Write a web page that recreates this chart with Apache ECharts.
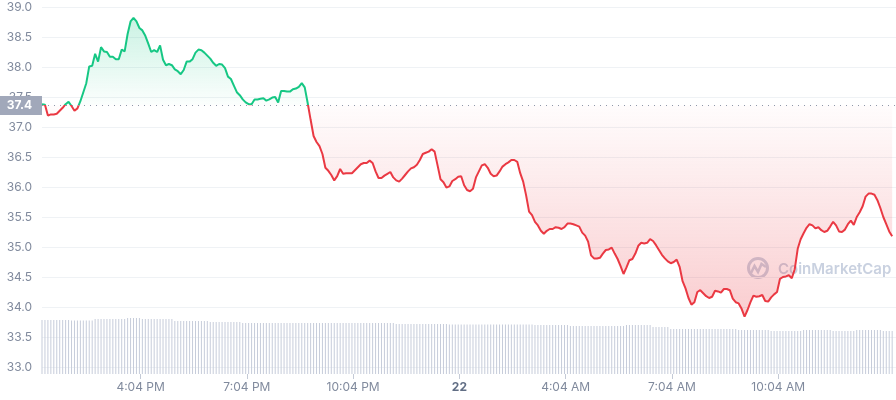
<!DOCTYPE html>
<html><head><meta charset="utf-8">
<script src="https://cdn.jsdelivr.net/npm/echarts@6/dist/echarts.min.js"></script>
<style>html,body{margin:0;padding:0;background:#fff}#c{width:896px;height:400px}</style>
</head><body><div id="c"></div>
<script>
// time: minutes after midnight of the 21st (13:17 start), 5-minute samples
const startMinute = 797;
const stepMinutes = 5;
const endMinute = 2243.5;
const openPrice = 37.36;

const prices = [
37.38,37.37,37.19,37.21,37.21,37.22,37.27,37.32,37.38,37.42,
37.35,37.27,37.31,37.43,37.58,37.73,38.01,38.02,38.22,38.09,
38.33,38.26,38.25,38.17,38.17,38.13,38.13,38.29,38.26,38.55,
38.76,38.82,38.76,38.65,38.61,38.52,38.39,38.25,38.28,38.25,
38.36,38.12,38.03,38.05,38.03,37.96,37.93,37.88,37.95,38.09,
38.09,38.13,38.24,38.29,38.28,38.24,38.19,38.14,38.07,38.02,
38.05,38.04,37.98,37.84,37.80,37.69,37.58,37.53,37.46,37.41,
37.38,37.38,37.46,37.46,37.47,37.48,37.44,37.46,37.49,37.50,
37.41,37.60,37.60,37.59,37.59,37.63,37.64,37.67,37.73,37.66,
37.40,37.12,36.85,36.75,36.68,36.55,36.32,36.27,36.20,36.11,
36.18,36.30,36.22,36.23,36.23,36.23,36.28,36.33,36.38,36.40,
36.40,36.44,36.40,36.26,36.15,36.15,36.19,36.22,36.25,36.16,
36.11,36.09,36.14,36.20,36.26,36.31,36.33,36.37,36.45,36.55,
36.57,36.59,36.63,36.59,36.36,36.13,36.08,35.99,36.01,36.10,
36.13,36.17,36.18,36.03,35.95,35.93,35.97,36.16,36.26,36.36,
36.38,36.32,36.22,36.18,36.19,36.26,36.34,36.38,36.41,36.45,
36.45,36.42,36.23,36.09,35.86,35.59,35.53,35.42,35.36,35.27,
35.22,35.27,35.30,35.30,35.33,35.32,35.30,35.33,35.39,35.39,
35.38,35.36,35.34,35.24,35.19,35.09,34.86,34.81,34.81,34.82,
34.89,34.95,34.96,34.99,34.89,34.80,34.68,34.55,34.66,34.78,
34.80,34.89,35.02,35.07,35.06,35.07,35.13,35.10,35.03,34.95,
34.87,34.81,34.76,34.73,34.75,34.79,34.67,34.43,34.31,34.15,
34.04,34.08,34.25,34.28,34.23,34.18,34.15,34.17,34.27,34.26,
34.24,34.30,34.30,34.28,34.14,34.08,34.06,33.97,33.84,33.95,
34.08,34.19,34.17,34.18,34.20,34.10,34.09,34.16,34.21,34.25,
34.47,34.50,34.51,34.53,34.48,34.63,34.97,35.13,35.23,35.32,
35.38,35.36,35.31,35.33,35.28,35.25,35.27,35.34,35.42,35.36,
35.26,35.25,35.29,35.38,35.44,35.37,35.50,35.58,35.68,35.84,
35.89,35.89,35.87,35.78,35.65,35.50,35.38,35.26,35.18
];

const volumes = [
5.40,5.40,5.41,5.40,5.40,5.39,5.40,5.40,5.41,5.40,
5.35,5.35,5.34,5.35,5.36,5.35,5.35,5.35,
5.50,5.50,5.50,5.50,5.50,5.50,5.50,5.50,5.50,5.50,5.50,
5.60,5.60,5.60,5.60,5.60,
5.50,5.50,5.50,5.50,5.50,5.50,5.50,5.50,5.50,5.50,5.50,
5.30,5.30,5.30,5.30,5.30,5.30,5.30,5.30,5.30,5.30,5.30,5.30,
5.20,5.20,5.20,5.20,5.20,5.20,5.20,5.20,5.20,5.20,5.20,
5.10,5.10,5.10,5.10,5.10,5.10,5.10,5.10,5.10,5.10,
5.10,5.10,5.10,5.10,5.10,5.10,5.10,5.10,5.10,5.10,
5.10,5.10,5.10,5.10,5.10,5.10,5.10,5.10,5.10,5.10,
5.10,5.10,5.10,5.10,5.10,5.10,5.10,5.10,5.10,5.10,
5.10,5.10,5.10,5.10,5.10,5.10,5.10,5.10,5.10,5.10,
5.10,5.10,
5.00,5.00,5.00,5.00,5.00,5.00,5.00,5.00,5.00,5.00,5.00,5.00,5.00,5.00,5.00,5.00,5.00,5.00,
4.95,4.95,4.95,4.95,4.95,4.95,4.95,4.95,4.95,4.95,
4.95,4.95,4.95,4.95,4.95,4.95,4.95,4.95,4.95,4.95,
4.95,4.95,4.95,4.95,4.95,4.95,4.95,4.95,4.95,
4.90,4.90,4.90,4.90,4.90,4.90,4.90,4.90,4.90,4.90,4.90,4.90,
4.80,4.80,4.80,4.80,4.80,4.80,4.80,4.80,4.80,4.80,
4.80,4.80,4.80,4.80,4.80,4.80,4.80,4.80,4.80,
4.90,4.90,4.90,4.90,4.90,4.90,4.90,4.90,4.90,
4.70,4.70,4.70,4.70,4.70,4.70,
4.50,4.50,4.50,4.50,4.50,4.50,4.50,4.50,4.50,4.50,
4.50,4.50,4.50,4.50,4.50,4.50,4.50,4.50,4.50,4.50,
4.50,4.50,4.50,
4.40,4.40,4.40,4.40,4.40,4.40,4.40,4.40,4.40,4.40,4.40,
4.30,4.30,4.30,4.30,4.30,4.30,4.30,4.30,4.30,4.30,4.30,
4.40,4.40,4.40,4.40,4.40,4.40,4.40,4.40,4.40,4.40,
4.30,4.30,4.30,4.30,4.30,4.30,4.30,4.30,
4.40,4.40,4.40,4.40,4.40,4.40,4.40,4.40,4.40,
4.30,4.30,4.30,4.30
];

const yMin = 33, yMax = 39, yStep = 0.5;
const volMax = 7.4;
const tickMinutes = [964, 1144, 1324, 1504, 1684, 1864, 2044];
const tickLabels = ['4:04 PM', '7:04 PM', '10:04 PM', '22', '4:04 AM', '7:04 AM', '10:04 AM'];

const priceData = prices.map((v, i) => [startMinute + i * stepMinutes, v]);
const volData = volumes.map((v, i) => [startMinute + i * stepMinutes, v]);

const FONT = 'Inter, "Noto Sans", sans-serif';
const WM = '#c9d1e0';

const chart = echarts.init(document.getElementById('c'), null, { renderer: 'canvas' });

const option = {
  animation: false,
  grid: [
    { left: 42, right: 0, top: 7, bottom: 33 },
    { left: 42, right: 0, top: 300, bottom: 26 }
  ],
  xAxis: [
    { type: 'value', gridIndex: 0, min: startMinute, max: endMinute, show: false },
    {
      type: 'value', gridIndex: 1, min: startMinute, max: endMinute,
      axisLine: { show: false }, splitLine: { show: false },
      axisTick: { show: true, customValues: tickMinutes, length: 5, lineStyle: { color: '#c4cad6' } },
      axisLabel: {
        customValues: tickMinutes, margin: 7, color: '#808a9d', fontSize: 12, fontFamily: FONT,
        formatter: (v) => { const t = tickLabels[tickMinutes.indexOf(v)]; return t === '22' ? '{b|22}' : t; },
        rich: { b: { fontWeight: 'bold', color: '#616e85', fontSize: 12, fontFamily: FONT } }
      }
    }
  ],
  yAxis: [
    {
      type: 'value', gridIndex: 0, min: yMin, max: yMax, interval: yStep,
      axisLine: { show: false }, axisTick: { show: false },
      axisLabel: { color: '#808a9d', fontSize: 12, fontFamily: FONT, margin: 10, formatter: (v) => v.toFixed(1) },
      splitLine: { lineStyle: { color: '#eff2f5', width: 1 } }
    },
    { type: 'value', gridIndex: 1, min: 0, max: volMax, show: false }
  ],
  graphic: [{
    type: 'group', left: 746, top: 256, z: 1, silent: true,
    children: [
      { type: 'circle', shape: { cx: 11, cy: 11, r: 9.5 }, style: { fill: 'none', stroke: WM, lineWidth: 3 } },
      { type: 'polyline', shape: { points: [[4, 16], [7.5, 9], [11, 15], [14.5, 7], [19, 10]] }, style: { fill: 'none', stroke: WM, lineWidth: 2.6 } },
      { type: 'text', x: 31, y: 12, style: { text: 'CoinMarketCap', font: '600 15px Inter, "Noto Sans", sans-serif', fill: WM, verticalAlign: 'middle' } }
    ]
  }],
  series: [
    {
      type: 'line', xAxisIndex: 0, yAxisIndex: 0, data: priceData, showSymbol: false, z: 3,
      lineStyle: { width: 2, color: '#ea3943' },
      markLine: {
        silent: true, symbol: 'none', animation: false,
        data: [{ yAxis: openPrice }],
        lineStyle: { type: [1, 5], color: '#8f98aa', width: 1 },
        label: {
          position: 'start', distance: 0, formatter: () => openPrice.toFixed(1),
          backgroundColor: '#a1a8ba', color: '#fff', fontWeight: 'bold', fontSize: 12, fontFamily: FONT,
          padding: [3, 10, 2, 10], lineHeight: 14
        },
        emphasis: { disabled: true }
      }
    },
    {
      type: 'bar', xAxisIndex: 1, yAxisIndex: 1, data: volData, barWidth: 1, silent: true, z: 1,
      itemStyle: { color: '#c6ccda' }
    }
  ]
};
chart.setOption(option);

const yTop = chart.convertToPixel({ yAxisIndex: 0 }, Math.max(...prices));
const yBase = chart.convertToPixel({ yAxisIndex: 0 }, openPrice);
const yBot = chart.convertToPixel({ yAxisIndex: 0 }, Math.min(...prices));
const off = (yBase - yTop) / (yBot - yTop);
const lineGrad = {
  type: 'linear', x: 0, y: yTop, x2: 0, y2: yBot, global: true,
  colorStops: [
    { offset: 0, color: '#16c784' }, { offset: off, color: '#16c784' },
    { offset: off, color: '#ea3943' }, { offset: 1, color: '#ea3943' }
  ]
};
const areaGrad = {
  type: 'linear', x: 0, y: yTop, x2: 0, y2: yBot, global: true,
  colorStops: [
    { offset: 0, color: 'rgba(22,199,132,0.32)' },
    { offset: off, color: 'rgba(22,199,132,0.02)' },
    { offset: off, color: 'rgba(234,57,67,0.02)' },
    { offset: 1, color: 'rgba(234,57,67,0.36)' }
  ]
};
chart.setOption({
  series: [{
    lineStyle: { width: 2, color: lineGrad },
    itemStyle: { color: lineGrad },
    areaStyle: { origin: openPrice, color: areaGrad }
  }]
});
</script></body></html>
